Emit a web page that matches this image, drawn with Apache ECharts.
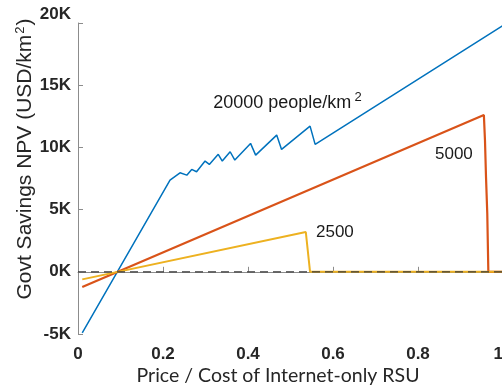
<!DOCTYPE html>
<html>
<head>
<meta charset="utf-8">
<script src="https://cdn.jsdelivr.net/npm/echarts@6/dist/echarts.min.js"></script>
<style>
  html, body { margin: 0; padding: 0; background: #ffffff; }
  #chart { width: 502px; height: 390px; }
</style>
</head>
<body>
<div id="chart"></div>
<script>
// Price ratio (x) and government savings NPV in USD/km^2 (y) for each density scenario
const price20000 = [0.01, 0.2165, 0.24, 0.256, 0.2675, 0.279, 0.299, 0.309, 0.33, 0.3395, 0.358, 0.369, 0.406, 0.418, 0.4675, 0.479, 0.546, 0.558, 1.0];
const npv20000   = [-4900, 7370, 7960, 7770, 8230, 8040, 8900, 8630, 9440, 8900, 9650, 8980, 10320, 9380, 10990, 9840, 11710, 10240, 19800];

const price5000 = [0.01, 0.955, 0.9576, 0.96, 0.963, 0.9655, 1.0];
const npv5000   = [-1230, 12600, 10580, 7640, 4690, 0, 0];

const price2500 = [0.01, 0.536, 0.546, 1.0];
const npv2500   = [-610, 3200, 0, 0];

// Break-even reference line
const zeroPrice = [0, 1];
const zeroNpv   = [0, 0];

// Axis ticks
const xTicks = [0, 0.2, 0.4, 0.6, 0.8, 1];
const yTicks = [-5000, 0, 5000, 10000, 15000, 20000];

// Curve annotations: [text, x, y, superscript]
const curveLabels = [
  ['20000 people/km', 0.318, 13600, '2'],
  ['5000', 0.84, 9460, ''],
  ['2500', 0.56, 3150, '']
];

const pairs = (xs, ys) => xs.map((x, i) => [x, ys[i]]);

const chart = echarts.init(document.getElementById('chart'), null, { renderer: 'canvas' });

const axisColor = '#8c8c8c';
const tickFont = {
  color: '#262626',
  fontFamily: 'Liberation Sans, Arial, sans-serif',
  fontSize: 17,
  fontWeight: 'bold'
};

chart.setOption({
  animation: false,
  backgroundColor: '#ffffff',
  grid: { left: 78, width: 425, top: 23, bottom: 56, containLabel: false, outerBoundsMode: 'none' },
  xAxis: {
    type: 'value',
    min: xTicks[0],
    max: xTicks[xTicks.length - 1],
    interval: 0.2,
    axisLine: { show: true, lineStyle: { color: axisColor, width: 1 } },
    axisTick: { show: true, inside: true, length: 5, lineStyle: { color: axisColor } },
    splitLine: { show: false },
    axisLabel: Object.assign({
      margin: 12,
      showMinLabel: true,
      showMaxLabel: true,
      hideOverlap: false,
      alignMaxLabel: 'right',
      formatter: v => String(+v.toFixed(1))
    }, tickFont)
  },
  yAxis: {
    type: 'value',
    min: yTicks[0],
    max: yTicks[yTicks.length - 1],
    interval: 5000,
    axisLine: { show: true, lineStyle: { color: axisColor, width: 1 } },
    axisTick: { show: true, inside: true, length: 5, lineStyle: { color: axisColor } },
    splitLine: { show: false },
    axisLabel: Object.assign({
      margin: 7,
      showMinLabel: true,
      showMaxLabel: true,
      formatter: v => (v === yTicks[yTicks.length - 1] ? '{top|' + (v / 1000) + 'K}' : (v / 1000) + 'K'),
      rich: {
        top: Object.assign({ padding: [0, 0, 18, 0] }, tickFont)
      }
    }, tickFont)
  },
  series: [
    {
      name: '20000',
      type: 'line',
      data: pairs(price20000, npv20000),
      showSymbol: false,
      lineStyle: { color: '#0072BD', width: 1.5 },
      z: 2
    },
    {
      name: '5000',
      type: 'line',
      data: pairs(price5000, npv5000),
      showSymbol: false,
      lineStyle: { color: '#D95319', width: 2.2 },
      z: 3
    },
    {
      name: '2500',
      type: 'line',
      data: pairs(price2500, npv2500),
      showSymbol: false,
      lineStyle: { color: '#EDB120', width: 2 },
      z: 4
    },
    {
      name: 'break-even',
      type: 'line',
      data: pairs(zeroPrice, zeroNpv),
      showSymbol: false,
      lineStyle: { color: '#3a3a3a', width: 1.2, type: [8, 5] },
      z: 5
    }
  ]
});

// Text placed from data coordinates
const labelFont = 'Liberation Sans, Arial, sans-serif';
const graphics = curveLabels.map(([text, x, y, sup]) => {
  const p = chart.convertToPixel({ gridIndex: 0 }, [x, y]);
  return {
    type: 'text',
    x: p[0],
    y: p[1],
    z: 10,
    style: {
      text: sup ? '{m|' + text + '} {s|' + sup + '}' : '{m|' + text + '}',
      align: 'left',
      verticalAlign: 'middle',
      rich: {
        m: { fontFamily: labelFont, fontSize: sup ? 18 : 17, fill: '#1a1a1a' },
        s: { fontFamily: labelFont, fontSize: 13, fill: '#1a1a1a', padding: [0, 0, 10, 0] }
      }
    }
  };
});

// Axis titles
graphics.push({
  type: 'text',
  x: 25,
  y: 159,
  rotation: Math.PI / 2,
  z: 10,
  style: {
    text: '{m|Govt Savings NPV (USD/km}{s|2}{m|)}',
    align: 'center',
    verticalAlign: 'middle',
    rich: {
      m: { fontFamily: labelFont, fontSize: 21, fill: '#262626' },
      s: { fontFamily: labelFont, fontSize: 13, fill: '#262626', padding: [0, 1, 10, 1] }
    }
  }
});
graphics.push({
  type: 'text',
  x: 278,
  y: 376,
  z: 10,
  style: {
    text: 'Price / Cost of Internet-only RSU',
    align: 'center',
    verticalAlign: 'middle',
    fontFamily: 'Lato, Open Sans, sans-serif',
    fontSize: 19.5,
    fill: '#262626'
  }
});

chart.setOption({ graphic: graphics });
</script>
</body>
</html>
